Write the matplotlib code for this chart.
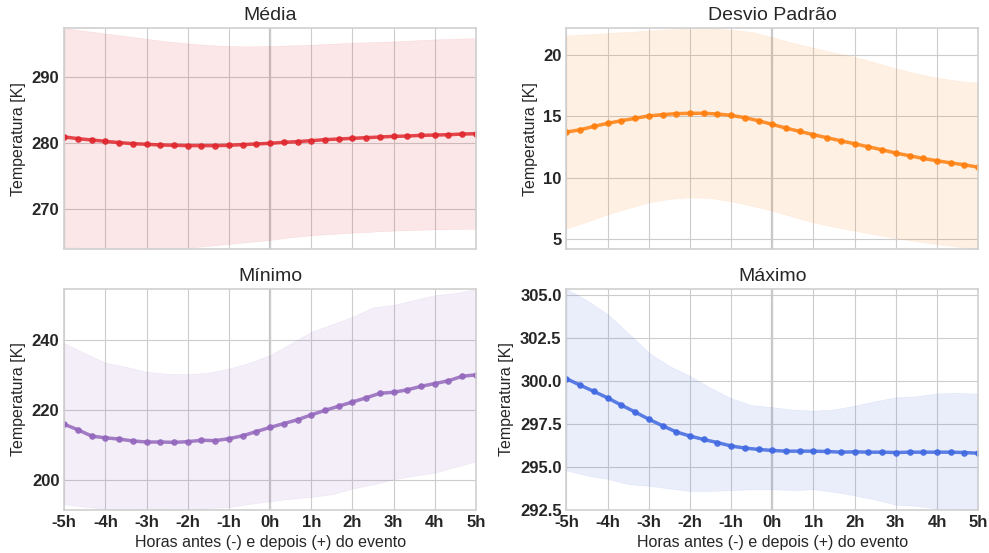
import numpy as np
import matplotlib
matplotlib.use('Agg')
import matplotlib.pyplot as plt

plt.style.use('seaborn-v0_8-whitegrid')
plt.rcParams['font.family'] = ['Liberation Sans', 'DejaVu Sans']

# time axis (hours relative to the event), line sampled every 20 min
hours = np.linspace(-5, 5, 31)
# band edges read every half hour
band_hours = np.linspace(-5, 5, 21)

media = [280.97, 280.7, 280.5, 280.3, 280.1, 279.95, 279.85, 279.75, 279.7, 279.65,
         279.65, 279.65, 279.7, 279.8, 279.9, 280.0, 280.15, 280.25, 280.4, 280.55,
         280.65, 280.75, 280.85, 280.95, 281.05, 281.1, 281.2, 281.25, 281.3, 281.4, 281.45]
media_up = [297.4, 297.0, 296.6, 296.2, 295.8, 295.4, 295.1, 294.85, 294.7, 294.65, 294.7,
            294.8, 294.9, 295.05, 295.2, 295.3, 295.4, 295.55, 295.7, 295.8, 295.9]
media_lo = [264.3, 264.2, 264.1, 264.0, 264.0, 264.1, 264.2, 264.5, 264.8, 265.1, 265.4,
            265.8, 266.1, 266.3, 266.5, 266.65, 266.8, 266.9, 267.0, 267.05, 267.1]

desvio = [13.72, 13.9, 14.18, 14.43, 14.64, 14.84, 15.03, 15.14, 15.22, 15.25,
          15.25, 15.19, 15.08, 14.89, 14.64, 14.34, 14.04, 13.77, 13.5, 13.25,
          13.0, 12.76, 12.51, 12.27, 12.0, 11.78, 11.56, 11.37, 11.2, 11.04, 10.85]
desvio_up = [21.6, 21.7, 21.8, 21.9, 22.0, 22.1, 22.2, 22.2, 22.07, 21.9, 21.46,
             21.0, 20.6, 20.2, 19.86, 19.4, 18.9, 18.5, 18.15, 17.9, 17.74]
desvio_lo = [5.85, 6.4, 7.0, 7.5, 7.98, 8.25, 8.39, 8.33, 8.06, 7.7, 7.3,
             6.8, 6.34, 5.98, 5.66, 5.35, 5.05, 4.8, 4.56, 4.35, 4.15]

minimo = [215.9, 214.3, 212.5, 212.0, 211.65, 211.1, 210.8, 210.8, 210.7, 210.9,
          211.3, 211.2, 211.75, 212.6, 213.8, 215.0, 216.1, 217.2, 218.6, 219.9,
          221.1, 222.3, 223.5, 224.8, 225.1, 225.8, 226.8, 227.6, 228.4, 229.7, 230.1]
minimo_up = [239.2, 236.3, 233.6, 232.4, 231.0, 230.4, 230.3, 230.7, 231.9, 233.6, 235.8,
             239.1, 242.5, 244.6, 246.8, 249.5, 250.2, 251.6, 253.0, 253.6, 254.8]
minimo_lo = [192.9, 192.2, 191.6, 191.4, 191.3, 191.3, 191.5, 191.8, 192.1, 193.0, 193.8,
             194.5, 195.0, 195.8, 197.4, 198.65, 200.1, 201.1, 202.0, 203.65, 205.2]

maximo = [300.14, 299.76, 299.4, 299.02, 298.6, 298.2, 297.78, 297.4, 297.04, 296.8,
          296.6, 296.42, 296.22, 296.1, 296.02, 295.96, 295.92, 295.92, 295.92, 295.9,
          295.86, 295.88, 295.86, 295.86, 295.84, 295.86, 295.86, 295.86, 295.86, 295.84, 295.8]
maximo_up = [305.37, 304.7, 303.9, 302.8, 301.66, 300.88, 300.3, 299.6, 299.0, 298.6, 298.48,
             298.34, 298.28, 298.35, 298.57, 298.83, 299.06, 299.12, 299.28, 299.32, 299.26]
maximo_lo = [294.8, 294.5, 294.3, 294.0, 293.9, 293.75, 293.6, 293.6, 293.65, 293.7, 293.7,
             293.65, 293.7, 293.55, 293.34, 293.1, 292.8, 292.73, 292.58, 292.52, 292.52]

titles = ['Média', 'Desvio Padrão', 'Mínimo', 'Máximo']
colors = ['#e0282e', '#ff7f0e', '#9467bd', '#4169e1']
series = [(media, media_up, media_lo), (desvio, desvio_up, desvio_lo),
          (minimo, minimo_up, minimo_lo), (maximo, maximo_up, maximo_lo)]
tick_hours = np.arange(-5, 6)
tick_labels = [f'{h}h' for h in tick_hours]

fig, axes = plt.subplots(2, 2, figsize=(9.89, 5.53), dpi=100, sharex=True)
fig.subplots_adjust(left=0.065, right=0.989, top=0.949, bottom=0.078,
                    hspace=0.18, wspace=0.22)

for ax, title, color, (line, up, lo) in zip(axes.flat, titles, colors, series):
    ax.fill_between(band_hours, lo, up, color=color, alpha=0.11, lw=0.4)
    ax.plot(hours, line, color=color, lw=2.5, alpha=0.85, marker='o', markersize=3.8)
    ax.axvline(0, color='#c4c4c4', lw=1.6, zorder=0.5)
    ax.set_title(title, fontsize=14)
    ax.set_ylabel('Temperatura [K]', fontsize=11.5)
    ax.set_xlim(-5, 5)
    ax.set_ylim(min(lo), max(up))
    ax.set_xticks(tick_hours)
    ax.set_xticklabels(tick_labels)
    ax.tick_params(labelsize=12)
    for lbl in ax.get_yticklabels() + ax.get_xticklabels():
        lbl.set_fontweight('bold')
    for spine in ax.spines.values():
        spine.set_visible(True)
        spine.set_color('#d0d0d0')
        spine.set_linewidth(1.2)

axes[0, 0].set_yticks([270, 280, 290])
axes[0, 1].set_yticks([5, 10, 15, 20])
axes[1, 0].set_yticks([200, 220, 240])
axes[1, 1].set_yticks([292.5, 295.0, 297.5, 300.0, 302.5, 305.0])
axes[1, 1].set_yticklabels(['292.5', '295.0', '297.5', '300.0', '302.5', '305.0'],
                           fontweight='bold')

for ax in axes[1]:
    ax.set_xlabel('Horas antes (-) e depois (+) do evento', fontsize=11.5)

plt.savefig('out.png', dpi=100, facecolor='white')
plt.close()
